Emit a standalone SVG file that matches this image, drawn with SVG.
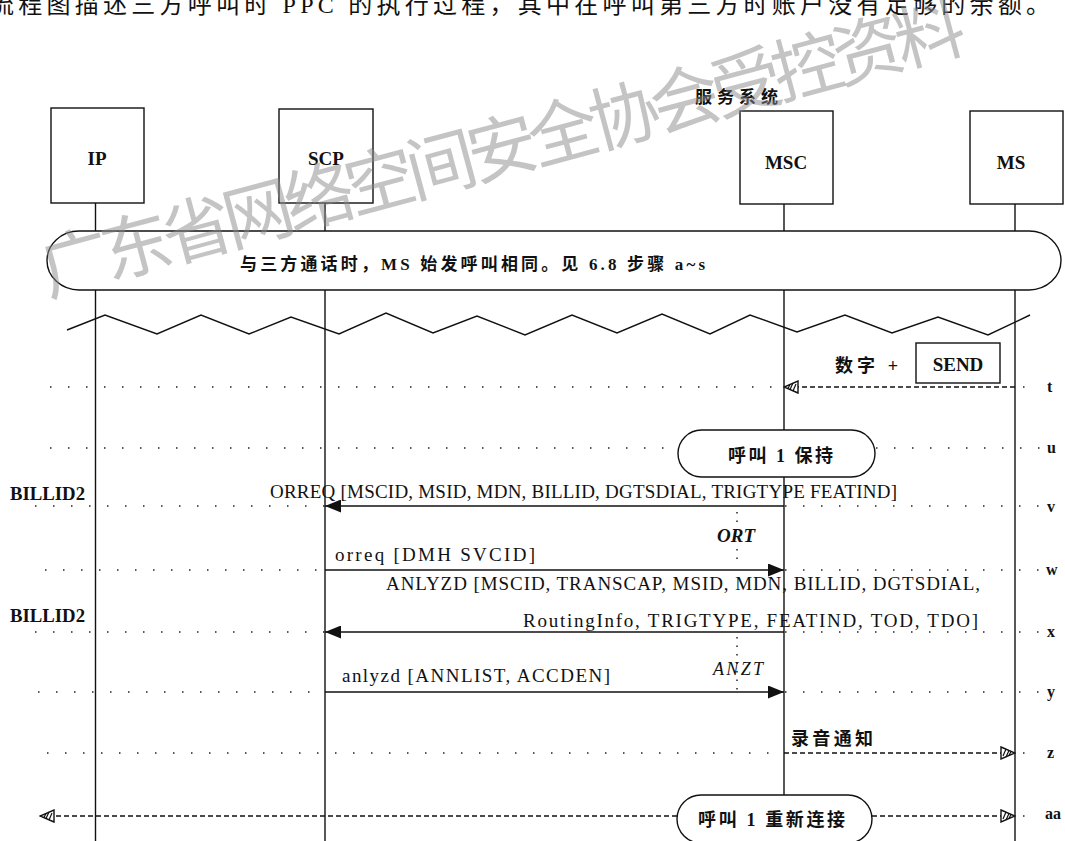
<svg xmlns="http://www.w3.org/2000/svg" width="1065" height="841" viewBox="0 0 1065 841">
<style>
.box{fill:#fff;stroke:#111;stroke-width:1.4}
.life{stroke:#111;stroke-width:1.4;fill:none}
.dot{stroke:#222;stroke-width:1.7;stroke-dasharray:1.5 16.5;fill:none}
.tdot{stroke:#222;stroke-width:1.5;stroke-dasharray:1.5 7;fill:none}
.dash{stroke:#111;stroke-width:1.3;stroke-dasharray:5 3;fill:none}
.msg{stroke:#111;stroke-width:1.4;fill:none}
.oval{fill:#fff;stroke:#111;stroke-width:1.4}
.t{font-family:"Liberation Serif","Noto Sans CJK SC",serif;fill:#111}
.b{font-weight:bold}
.cjk{font-family:"Liberation Serif","Noto Sans CJK SC",sans-serif;font-weight:bold;fill:#111}
.node{font-size:19px;font-weight:bold;text-anchor:middle}
.msgt{font-size:19px}
.row{font-size:16px;font-weight:bold}
.wm{font-family:"Noto Sans CJK SC",sans-serif;font-weight:normal;fill:#8a8a8a;fill-opacity:0.5}
</style>
<defs>
<marker id="fa" viewBox="0 0 16 13" refX="16" refY="6.5" markerWidth="16" markerHeight="13" markerUnits="userSpaceOnUse" orient="auto">
<path d="M0,0 L16,6.5 L0,13 Z" fill="#111"/>
</marker>
<marker id="ha" viewBox="0 0 16 14" refX="15" refY="7" markerWidth="16" markerHeight="14" markerUnits="userSpaceOnUse" orient="auto">
<path d="M1,1 L15,7 L1,13 Z" fill="#fff" stroke="#111" stroke-width="1.4"/>
<path d="M3,10 L6,3 M6,11 L9,4.5 M9,9.5 L11,5.5" stroke="#111" stroke-width="1.2"/>
</marker>
</defs>

<text id="caption" class="t" x="-10" y="13" font-size="24" textLength="1060" lengthAdjust="spacing">流程图描述三方呼叫时 PPC 的执行过程，其中在呼叫第三方时账户没有足够的余额。</text>

<g id="node-IP">
<rect class="box" x="51" y="108" width="93" height="95"/>
<text class="t node" x="97" y="165">IP</text>
<line class="life" x1="95.5" y1="203" x2="95.5" y2="231"/>
<line class="life" x1="95.5" y1="290" x2="95.5" y2="841"/>
</g>
<g id="node-SCP">
<rect class="box" x="279" y="109" width="94" height="94"/>
<text class="t node" x="326" y="165">SCP</text>
<line class="life" x1="325" y1="203" x2="325" y2="231"/>
<line class="life" x1="325" y1="290" x2="325" y2="841"/>
</g>
<g id="node-MSC">
<text class="cjk" x="695" y="103" font-size="17" textLength="83" lengthAdjust="spacing">服务系统</text>
<rect class="box" x="740" y="111" width="93" height="93"/>
<text class="t node" x="786" y="169">MSC</text>
<line class="life" x1="784" y1="204" x2="784" y2="231"/>
<line class="life" x1="784" y1="290" x2="784" y2="796"/>
</g>
<g id="node-MS">
<rect class="box" x="970" y="111" width="93" height="93"/>
<text class="t node" x="1011" y="169">MS</text>
<line class="life" x1="1015" y1="204" x2="1015" y2="231"/>
<line class="life" x1="1015" y1="290" x2="1015" y2="841"/>
</g>

<g id="band">
<rect class="oval" x="47" y="231" width="1014" height="59" rx="32" ry="29.5"/>
<text class="cjk" x="240" y="270" font-size="17" textLength="465" lengthAdjust="spacing">与三方通话时，MS 始发呼叫相同。见 6.8 步骤 a~s</text>
</g>

<g id="wave">
<polyline class="life" points="67,330 105,315 157,334 201,315 249,334 291,317 339,334 386,313 433,333 477,316 525,335 572,315 617,333 662,314 710,334 750,315 797,332 845,315 892,333 938,317 988,335 1030,315"/>
</g>

<g id="guides">
<path class="dot" d="M50,387 H784 M1023,387 H1040"/>
<path class="dot" d="M50,448 H678 M876,448 H1040"/>
<path class="dot" d="M35,506 H325 M785,506 H1040"/>
<path class="dot" d="M45,570 H325 M785,570 H1040"/>
<path class="dot" d="M35,632 H325 M785,632 H1040"/>
<path class="dot" d="M38,692 H325 M785,692 H1040"/>
<path class="dot" d="M47,753 H784 M1023,753 H1040"/>
<path class="dot" d="M1023,816 H1035"/>
</g>

<g id="row-labels">
<text class="t row" x="1047" y="392">t</text>
<text class="t row" x="1047" y="453">u</text>
<text class="t row" x="1047" y="512">v</text>
<text class="t row" x="1046" y="575">w</text>
<text class="t row" x="1047" y="637">x</text>
<text class="t row" x="1047" y="697">y</text>
<text class="t row" x="1047" y="758">z</text>
<text class="t row" x="1045" y="819">aa</text>
</g>

<g id="connectors">
<line class="dash" x1="1015" y1="387" x2="784" y2="387" marker-end="url(#ha)"/>
<line class="msg" x1="784" y1="506" x2="325" y2="506" marker-end="url(#fa)"/>
<line class="msg" x1="325" y1="570" x2="784" y2="570" marker-end="url(#fa)"/>
<line class="msg" x1="784" y1="632" x2="325" y2="632" marker-end="url(#fa)"/>
<line class="msg" x1="325" y1="692" x2="784" y2="692" marker-end="url(#fa)"/>
<line class="dash" x1="784" y1="753" x2="1015" y2="753" marker-end="url(#ha)"/>
<line class="dash" x1="677" y1="816" x2="40" y2="816" marker-end="url(#ha)"/>
<line class="dash" x1="872" y1="816" x2="1015" y2="816" marker-end="url(#ha)"/>
<path class="tdot" d="M737,512 V527 M737,549 V566"/>
<path class="tdot" d="M737,637 V690"/>
</g>

<g id="labels">
<text class="cjk" x="835" y="372" font-size="18" textLength="63" lengthAdjust="spacing">数字 +</text>
<rect class="box" x="916" y="343" width="84" height="40"/>
<text class="t b" x="958" y="371" font-size="19" text-anchor="middle">SEND</text>
<text class="t b" x="10" y="500" font-size="19" textLength="75" lengthAdjust="spacingAndGlyphs">BILLID2</text>
<text class="t msgt" x="270" y="498" textLength="627" lengthAdjust="spacing">ORREQ [MSCID, MSID, MDN, BILLID, DGTSDIAL, TRIGTYPE FEATIND]</text>
<text class="t b" x="717" y="542" font-size="18" font-style="italic" textLength="38" lengthAdjust="spacingAndGlyphs">ORT</text>
<text class="t msgt" x="335" y="561" textLength="200" lengthAdjust="spacing">orreq [DMH  SVCID]</text>
<text class="t msgt" x="386" y="590" textLength="594" lengthAdjust="spacing">ANLYZD [MSCID, TRANSCAP, MSID, MDN, BILLID, DGTSDIAL,</text>
<text class="t b" x="10" y="622" font-size="19" textLength="75" lengthAdjust="spacingAndGlyphs">BILLID2</text>
<text class="t msgt" x="523" y="627" textLength="455" lengthAdjust="spacing">RoutingInfo, TRIGTYPE, FEATIND, TOD, TDO]</text>
<text class="t" x="713" y="675" font-size="18" font-style="italic" textLength="50" lengthAdjust="spacing">ANZT</text>
<text class="t msgt" x="342" y="682" textLength="268" lengthAdjust="spacing">anlyzd [ANNLIST, ACCDEN]</text>
<text class="cjk" x="791" y="745" font-size="18" textLength="82" lengthAdjust="spacing">录音通知</text>
</g>

<g id="hold">
<rect class="oval" x="678" y="430" width="197" height="47" rx="23.5"/>
<text class="cjk" x="728" y="462" font-size="18" textLength="105" lengthAdjust="spacing">呼叫 1 保持</text>
</g>
<g id="reconnect">
<rect class="oval" x="677" y="795" width="195" height="48" rx="24"/>
<text class="cjk" x="698" y="826" font-size="18" textLength="147" lengthAdjust="spacing">呼叫 1 重新连接</text>
</g>

<g id="watermark">
<text class="wm" font-size="70" transform="translate(48,296) rotate(-15)" textLength="954" lengthAdjust="spacing">广东省网络空间安全协会受控资料</text>
</g>
</svg>
